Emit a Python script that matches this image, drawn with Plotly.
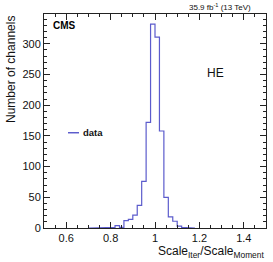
import plotly.graph_objects as go

# Histogram data (bin low edges, width 0.02) and counts
bin_low = [0.70, 0.72, 0.74, 0.76, 0.78, 0.80, 0.82, 0.84, 0.86, 0.88, 0.90, 0.92,
           0.94, 0.96, 0.98, 1.00, 1.02, 1.04, 1.06, 1.08, 1.10, 1.12, 1.14, 1.16]
counts = [0, 1, 0, 0, 0, 1, 4, 1, 12, 14, 21, 37,
          76, 172, 332, 311, 158, 50, 18, 11, 3, 1, 1, 0]
bin_width = 0.02

x_range = [0.5, 1.5]
y_range = [0, 348.6]
x_ticks = [0.6, 0.8, 1.0, 1.2, 1.4]
x_tick_labels = ["0.6", "0.8", "1", "1.2", "1.4"]
y_ticks = [0, 50, 100, 150, 200, 250, 300]
y_tick_labels = ["0", "50", "100", "150", "200", "250", "300"]

line_color = "rgb(92,92,204)"
FONT = "Liberation Sans, Arial, Helvetica, sans-serif"

# step outline
xs, ys = [], []
for lo, c in zip(bin_low, counts):
    xs += [lo, lo + bin_width]
    ys += [c, c]
xs = [bin_low[0]] + xs
ys = [0] + ys

fig = go.Figure()
fig.add_trace(go.Scatter(x=xs, y=ys, mode="lines", line=dict(color=line_color, width=1.2),
                         showlegend=False, hoverinfo="skip"))

axis_common = dict(showgrid=False, zeroline=False, showline=True, linecolor="#222",
                   linewidth=1, mirror="allticks", ticks="inside", tickcolor="#222",
                   tickfont=dict(family=FONT, size=11, color="#111"), layer="above traces")

fig.update_xaxes(range=x_range, tickvals=x_ticks, ticktext=x_tick_labels, ticklen=6,
                 minor=dict(ticks="inside", dtick=0.05, tick0=0.5, ticklen=3, tickcolor="#222"),
                 **axis_common)
fig.update_yaxes(range=y_range, tickvals=y_ticks, ticktext=y_tick_labels, ticklen=6,
                 minor=dict(ticks="inside", dtick=10, tick0=0, ticklen=3, tickcolor="#222"),
                 **axis_common)

W, H = 273, 262
L, R, T, B = 44, 7, 13.5, 34
pw, ph = W - L - R, H - T - B

def px(x):
    return (x - L) / pw

def py(y):
    return (H - B - y) / ph

ann = []
ann.append(dict(text="35.9 fb<sup>-1</sup> (13 TeV)", x=px(253), y=py(6), xref="paper", yref="paper",
                xanchor="right", yanchor="middle", showarrow=False,
                font=dict(family=FONT, size=8, color="#111")))
ann.append(dict(text="<b>CMS</b>", x=px(51), y=py(25), xref="paper", yref="paper",
                xanchor="left", yanchor="middle", showarrow=False,
                font=dict(family=FONT, size=10, color="#000")))
ann.append(dict(text="HE", x=px(205), y=py(73), xref="paper", yref="paper",
                xanchor="left", yanchor="middle", showarrow=False,
                font=dict(family=FONT, size=12, color="#111")))
ann.append(dict(text="<b>data</b>", x=px(81), y=py(132.5), xref="paper", yref="paper",
                xanchor="left", yanchor="middle", showarrow=False,
                font=dict(family=FONT, size=9.5, color="#111")))
ann.append(dict(text="Number of channels", x=px(10.5), y=1, xref="paper", yref="paper",
                xanchor="center", yanchor="top", textangle=-90, showarrow=False,
                font=dict(family=FONT, size=12, color="#111")))
ann.append(dict(text="Scale<sub>Iter</sub>/Scale<sub>Moment</sub>", x=1, y=py(242),
                xref="paper", yref="paper", xanchor="right", yanchor="top", showarrow=False,
                font=dict(family=FONT, size=12, color="#111")))

shapes = [dict(type="line", xref="paper", yref="paper", x0=px(68), x1=px(79),
               y0=py(132.5), y1=py(132.5), line=dict(color=line_color, width=1.5))]

fig.update_layout(width=W, height=H, margin=dict(l=L, r=R, t=T, b=B, pad=0),
                  paper_bgcolor="white", plot_bgcolor="white",
                  annotations=ann, shapes=shapes, showlegend=False)

fig.write_html("out.html", config={"displayModeBar": False, "staticPlot": True},
               post_script="document.body.style.margin='0';document.body.style.overflow='hidden';")
